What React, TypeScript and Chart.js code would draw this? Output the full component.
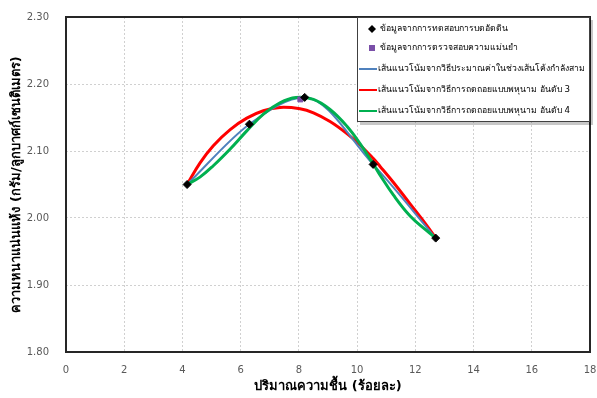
import React, { useEffect, useRef } from "react";
import { Chart, registerables } from "chart.js";

Chart.register(...registerables);

const testX = [4.16, 6.3, 8.2, 10.55, 12.7];
const testY = [2.05, 2.14, 2.18, 2.08, 1.97];
const checkX = [8.05];
const checkY = [2.177];

const redX = [4.16, 4.6, 5.06, 5.64, 6.21, 6.78, 7.35, 8.04, 8.5, 9.07, 9.65, 10.1, 10.55, 10.79, 11.25, 11.82, 12.39, 12.7];
const redY = [2.05, 2.082, 2.108, 2.132, 2.149, 2.16, 2.165, 2.163, 2.157, 2.144, 2.126, 2.109, 2.089, 2.077, 2.053, 2.021, 1.989, 1.97];

const greenX = [4.16, 4.6, 5.06, 5.64, 6.21, 6.78, 7.35, 7.9, 8.5, 9.07, 9.65, 10.1, 10.55, 10.79, 11.25, 11.82, 12.39, 12.7];
const greenY = [2.05, 2.061, 2.078, 2.103, 2.13, 2.155, 2.172, 2.18, 2.177, 2.162, 2.137, 2.111, 2.081, 2.064, 2.034, 2.003, 1.981, 1.97];

const legendLabels = [
  "ข้อมูลจากการทดสอบการบดอัดดิน",
  "ข้อมูลจากการตรวจสอบความแม่นยำ",
  "เส้นแนวโน้มจากวิธีประมาณค่าในช่วงเส้นโค้งกำลังสาม",
  "เส้นแนวโน้มจากวิธีการถดถอยแบบพหุนาม อันดับ 3",
  "เส้นแนวโน้มจากวิธีการถดถอยแบบพหุนาม อันดับ 4",
];

const xTitle = "ปริมาณความชื้น (ร้อยละ)";
const yTitle = "ความหนาแน่นแห้ง (กรัม/ลูกบาศก์เซนติเมตร)";

const FONT = "'DejaVu Sans', 'Noto Sans', sans-serif";
const BLUE = "#4f81bd";
const RED = "#ff0000";
const GREEN = "#00b050";
const PURPLE = "#7a4fa8";

const toPts = (xs: number[], ys: number[]) => xs.map((x, i) => ({ x, y: ys[i] }));

const legendPlugin = {
  id: "boxLegend",
  afterDraw(chart: any) {
    const ctx = chart.ctx;
    const a = chart.chartArea;
    const bw = 233, bh = 105;
    const bx = a.right - bw, by = a.top;
    ctx.save();
    ctx.fillStyle = "rgba(0,0,0,0.22)";
    ctx.fillRect(bx + 3, by + 3, bw, bh);
    ctx.fillStyle = "#ffffff";
    ctx.fillRect(bx, by, bw, bh);
    ctx.strokeStyle = "#404040";
    ctx.lineWidth = 1;
    ctx.strokeRect(bx + 0.5, by + 0.5, bw - 1, bh - 1);
    ctx.font = `10px ${FONT}`;
    const maxW = Math.max(...legendLabels.map((t) => ctx.measureText(t).width));
    const size = Math.min(10.5, (10 * 208) / maxW);
    ctx.font = `${size}px ${FONT}`;
    ctx.textBaseline = "middle";
    const ys = [12, 31, 52, 73, 94];
    legendLabels.forEach((t, i) => {
      const y = by + ys[i];
      if (i === 0) {
        ctx.fillStyle = "#000";
        ctx.beginPath();
        ctx.moveTo(bx + 15, y - 4);
        ctx.lineTo(bx + 19, y);
        ctx.lineTo(bx + 15, y + 4);
        ctx.lineTo(bx + 11, y);
        ctx.closePath();
        ctx.fill();
      } else if (i === 1) {
        ctx.fillStyle = PURPLE;
        ctx.fillRect(bx + 12, y - 3, 6, 6);
      } else {
        ctx.strokeStyle = [BLUE, RED, GREEN][i - 2];
        ctx.lineWidth = 2;
        ctx.beginPath();
        ctx.moveTo(bx + 2, y);
        ctx.lineTo(bx + 20, y);
        ctx.stroke();
      }
      ctx.fillStyle = "#000";
      ctx.textAlign = "left";
      ctx.fillText(t, i < 2 ? bx + 23 : bx + 21, y);
    });
    ctx.restore();
  },
};

const borderPlugin = {
  id: "areaBorder",
  afterDatasetsDraw(chart: any) {
    const { ctx, chartArea: a } = chart;
    ctx.save();
    ctx.strokeStyle = "#262626";
    ctx.lineWidth = 2;
    ctx.strokeRect(a.left, a.top, a.right - a.left, a.bottom - a.top);
    ctx.restore();
  },
};

const zeroPad = (s: any) => {
  s.paddingLeft = 0;
  s.paddingRight = 0;
  s.paddingTop = 0;
  s.paddingBottom = 0;
};

export default function App() {
  const ref = useRef<HTMLCanvasElement>(null);
  useEffect(() => {
    document.body.style.margin = "0";
    const chart = new Chart(ref.current!, {
      type: "scatter",
      data: {
        datasets: [
          {
            label: legendLabels[0],
            data: toPts(testX, testY),
            pointStyle: "rectRot",
            pointRadius: 4,
            backgroundColor: "#000",
            borderColor: "#000",
            showLine: false,
            order: 0,
          },
          {
            label: legendLabels[1],
            data: toPts(checkX, checkY),
            pointStyle: "rect",
            pointRadius: 3.5,
            backgroundColor: PURPLE,
            borderColor: PURPLE,
            showLine: false,
            order: 1,
          },
          {
            label: legendLabels[4],
            data: toPts(greenX, greenY),
            showLine: true,
            borderColor: GREEN,
            borderWidth: 3,
            pointRadius: 0,
            tension: 0.4,
            order: 2,
          },
          {
            label: legendLabels[2],
            data: toPts(testX, testY),
            showLine: true,
            borderColor: BLUE,
            borderWidth: 2,
            pointRadius: 0,
            cubicInterpolationMode: "monotone",
            order: 3,
          },
          {
            label: legendLabels[3],
            data: toPts(redX, redY),
            showLine: true,
            borderColor: RED,
            borderWidth: 3,
            pointRadius: 0,
            tension: 0.4,
            order: 4,
          },
        ],
      },
      options: {
        animation: false,
        responsive: false,
        layout: { padding: { top: 17, right: 7, left: 0, bottom: 0 } },
        plugins: { legend: { display: false }, tooltip: { enabled: false } },
        scales: {
          x: {
            type: "linear",
            min: 0,
            max: 18,
            ticks: { stepSize: 2, color: "#595959", font: { family: FONT, size: 10 }, padding: 12, maxRotation: 0 },
            grid: { color: "#d0d0d0", drawTicks: false },
            border: { dash: [2, 2], display: false },
            title: {
              display: true,
              text: xTitle,
              color: "#000",
              font: { family: FONT, size: 13, weight: "bold" },
              padding: { top: 0 },
            },
            afterFit(s: any) {
              s.height = 46;
              zeroPad(s);
            },
          },
          y: {
            min: 1.8,
            max: 2.3,
            ticks: {
              stepSize: 0.1,
              color: "#595959",
              font: { family: FONT, size: 10 },
              padding: 17,
              callback: (v: any) => Number(v).toFixed(2),
            },
            grid: { color: "#d0d0d0", drawTicks: false },
            border: { dash: [2, 2], display: false },
            title: {
              display: true,
              text: yTitle,
              color: "#000",
              font: { family: FONT, size: 13, weight: "bold" },
              padding: { bottom: 0, top: 9 },
            },
            afterFit(s: any) {
              s.width = 66;
              zeroPad(s);
            },
          },
        },
      },
      plugins: [borderPlugin, legendPlugin],
    } as any);
    return () => chart.destroy();
  }, []);
  return <canvas ref={ref} width={597} height={398} style={{ display: "block" }} />;
}
